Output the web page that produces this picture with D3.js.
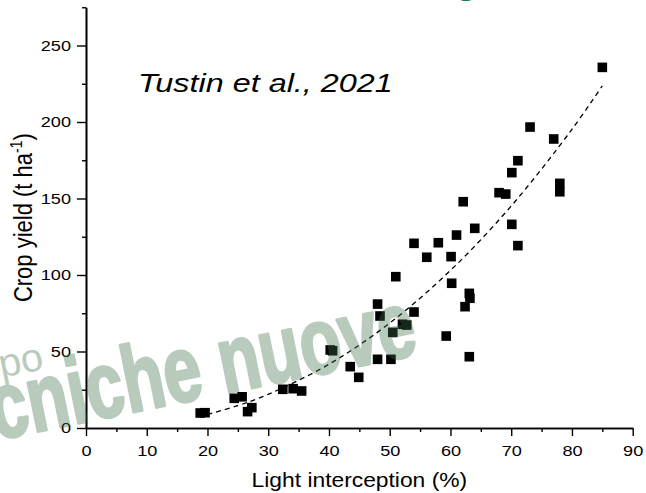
<!DOCTYPE html>
<html>
<head>
<meta charset="utf-8">
<script src="https://cdn.jsdelivr.net/npm/d3@7"></script>
<style>
  html, body { margin: 0; padding: 0; background: #ffffff; }
  svg { display: block; }
  text { font-family: Arial, "Liberation Sans", Helvetica, sans-serif; }
</style>
</head>
<body>
<svg id="chart" width="646" height="493"></svg>
<script>
// ---- data ----
const lightInterception = [18.8, 19.6, 24.4, 25.7, 26.6, 27.3, 32.4, 34.1, 35.5, 40.2, 40.6, 43.5, 44.9,
  48.0, 50.2, 48.0, 48.4, 51.0, 50.5, 52.1, 52.8, 54.0, 59.3, 63.1, 60.2, 62.4, 63.1, 63.2,
  56.1, 60.1, 54.0, 58.0, 71.1, 61.0, 64.0, 62.1, 70.1, 68.0, 69.1, 70.1, 71.1, 73.1, 77.0,
  78.0, 78.0, 85.0];
const cropYield = [9.8, 10.0, 19.4, 20.4, 10.7, 13.3, 25.3, 25.7, 24.2, 51.0, 50.5, 40.1, 33.1,
  44.9, 44.9, 81.0, 73.2, 98.9, 62.5, 67.8, 67.3, 75.8, 60.1, 46.6, 94.6, 79.3, 88.0, 84.8,
  111.6, 112.0, 120.7, 121.1, 119.2, 126.1, 130.5, 147.9, 133.1, 153.8, 152.9, 166.9, 174.7, 196.7, 188.9,
  159.9, 154.4, 235.7];
// fitted trend curve
const trendX = [20, 25, 30, 40, 50, 60, 70, 80, 85];
const trendY = [8.9, 14.6, 22.0, 41.7, 68.6, 103.0, 145.1, 195.2, 223.7];
// ticks
const xMajorTicks = [0, 10, 20, 30, 40, 50, 60, 70, 80, 90];
const xMinorTicks = [5, 15, 25, 35, 45, 55, 65, 75, 85];
const yMajorTicks = [0, 50, 100, 150, 200, 250];
const yMinorTicks = [25, 75, 125, 175, 225, 275];
const xTitle = "Light interception (%)";
const yTitle = "Crop yield (t ha";
const yTitleSup = "-1";
const annotation = "Tustin et al., 2021";

// ---- layout ----
const svg = d3.select("#chart");
const X0 = 86, X1 = 632.7, Y0 = 428, Y1 = 7.25;
const SX = 1.17; // horizontal stretch of the reference image

const x = d3.scaleLinear().domain([0, 90]).range([X0, X1]);
const y = d3.scaleLinear().domain([0, 275]).range([Y0, Y1]);

// axes: minor ticks
const gxMinor = svg.append("g").attr("transform", `translate(0,${Y0})`)
  .call(d3.axisBottom(x).tickValues(xMinorTicks).tickSize(4).tickSizeOuter(0).tickFormat(""));
const gyMinor = svg.append("g").attr("transform", `translate(${X0},0)`)
  .call(d3.axisLeft(y).tickValues(yMinorTicks).tickSize(4).tickSizeOuter(0).tickFormat(""));
// axes: major ticks
const gx = svg.append("g").attr("transform", `translate(0,${Y0})`)
  .call(d3.axisBottom(x).tickValues(xMajorTicks).tickSize(8).tickPadding(9).tickSizeOuter(0));
const gy = svg.append("g").attr("transform", `translate(${X0},0)`)
  .call(d3.axisLeft(y).tickValues(yMajorTicks).tickSize(9).tickPadding(6).tickSizeOuter(0));

[gxMinor, gyMinor, gx, gy].forEach(g => {
  g.selectAll("path.domain").attr("stroke", "#000").attr("stroke-width", 1.6);
  g.selectAll(".tick line").attr("stroke", "#000").attr("stroke-width", 1.4);
});
gx.selectAll(".tick text")
  .attr("font-size", 15.5).attr("fill", "#000")
  .attr("font-family", "Arial, 'Liberation Sans', sans-serif")
  .attr("transform", `scale(${SX},1)`);
gy.selectAll(".tick text")
  .attr("font-size", 15.5).attr("fill", "#000")
  .attr("font-family", "Arial, 'Liberation Sans', sans-serif")
  .attr("x", -15 / SX)
  .attr("transform", `scale(${SX},1)`);

// axis titles
svg.append("text")
  .attr("transform", `translate(${(X0 + X1) / 2},487) scale(${SX},1)`)
  .attr("text-anchor", "middle").attr("font-size", 19.5).attr("fill", "#000")
  .text(xTitle);

const yt = svg.append("text")
  .attr("transform", `translate(32,${(Y0 + Y1) / 2}) scale(${SX},1) rotate(-90)`)
  .attr("text-anchor", "middle").attr("font-size", 22).attr("fill", "#000");
yt.append("tspan").text(yTitle);
yt.append("tspan").attr("font-size", 14).attr("dy", -8.5).text(yTitleSup);
yt.append("tspan").attr("dy", 8.5).text(")");

// annotation
svg.append("text")
  .attr("transform", `translate(138,92) scale(1.245,1)`)
  .attr("font-size", 26).attr("font-style", "italic").attr("fill", "#000")
  .text(annotation);

// points
const S = 9.6;
svg.append("g").selectAll("rect")
  .data(d3.range(lightInterception.length))
  .join("rect")
  .attr("x", i => x(lightInterception[i]) - S / 2)
  .attr("y", i => y(cropYield[i]) - S / 2)
  .attr("width", S).attr("height", S)
  .attr("fill", "#000");

// trend line
const line = d3.line()
  .x(i => x(trendX[i]))
  .y(i => y(trendY[i]))
  .curve(d3.curveCatmullRom);
svg.append("path")
  .attr("d", line(d3.range(trendX.length)))
  .attr("fill", "none").attr("stroke", "#000")
  .attr("stroke-width", 1.3).attr("stroke-dasharray", "5,4");

// watermark (semi-transparent overlay)
const wm = svg.append("g").attr("opacity", 0.36)
  .attr("fill", "rgb(60,112,76)").attr("stroke", "rgb(60,112,76)");
wm.append("text")
  .attr("transform", "translate(-4,440) rotate(-11.5) scale(0.72,1)")
  .attr("font-size", 94).attr("font-weight", "bold")
  .attr("stroke-width", 3).attr("stroke-linejoin", "round")
  .text("cniche nuove");
wm.append("text")
  .attr("transform", "translate(45,369) rotate(-11.5)")
  .attr("text-anchor", "end")
  .attr("font-size", 40).attr("stroke-width", 0)
  .text("Gruppo");

// green fragment of a cropped heading at top
svg.append("text")
  .attr("x", 454).attr("y", -8)
  .attr("font-size", 42).attr("font-weight", "bold")
  .attr("fill", "#0f7a55")
  .text("g");
</script>
</body>
</html>
